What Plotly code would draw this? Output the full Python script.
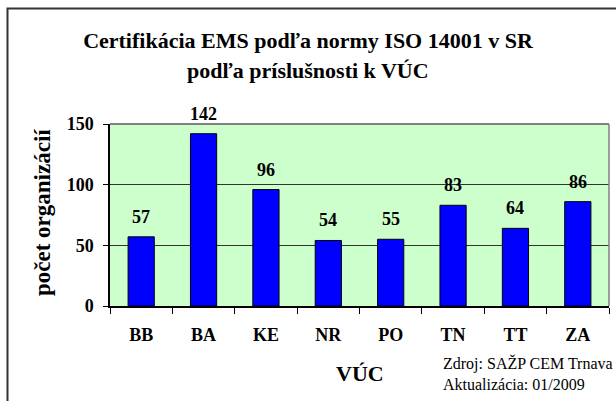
import plotly.graph_objects as go

categories = ["BB", "BA", "KE", "NR", "PO", "TN", "TT", "ZA"]
values = [57, 142, 96, 54, 55, 83, 64, 86]
y_ticks = [0, 50, 100, 150]

title_line1 = "Certifikácia EMS podľa normy ISO 14001 v SR"
title_line2 = "podľa príslušnosti k VÚC"
y_title = "počet organizácií"
x_title = "VÚC"
source_lines = ["Zdroj: SAŽP CEM Trnava", "Aktualizácia: 01/2009"]

SERIF = "Liberation Serif, Times New Roman, serif"

W, H = 616, 401
L, R, T, B = 110, 7, 124, 95
pw, ph = W - L - R, H - T - B

def px_x(px):
    return (px - L) / pw

def px_y(py):
    return (H - B - py) / ph

fig = go.Figure()
fig.add_trace(go.Bar(
    x=categories, y=values,
    marker=dict(color="#0000FF", line=dict(color="#000000", width=1)),
    width=0.42,
    hoverinfo="x+y",
))

annotations = []
for c, v in zip(categories, values):
    annotations.append(dict(
        x=c, y=v, xref="x", yref="y", text=str(v), showarrow=False,
        yanchor="bottom", yshift=8,
        font=dict(family=SERIF, size=18, color="#000000", weight="bold"),
    ))

annotations.append(dict(
    x=px_x(W / 2), y=px_y(71), xref="paper", yref="paper", text=title_line2,
    showarrow=False, xanchor="center", yanchor="middle",
    font=dict(family=SERIF, size=22, color="#000000", weight="bold"),
))
annotations.append(dict(
    x=px_x(42), y=px_y(213), xref="paper", yref="paper", text=y_title,
    textangle=-90, showarrow=False, xanchor="center", yanchor="middle",
    font=dict(family=SERIF, size=23, color="#000000", weight="bold"),
))
annotations.append(dict(
    x=0.5, y=px_y(373), xref="paper", yref="paper", text=x_title,
    showarrow=False, xanchor="center", yanchor="middle",
    font=dict(family=SERIF, size=22, color="#000000", weight="bold"),
))
annotations.append(dict(
    x=px_x(441), y=px_y(373), xref="paper", yref="paper",
    text="<br>".join(source_lines), showarrow=False, xanchor="left",
    yanchor="middle", align="left",
    font=dict(family=SERIF, size=16, color="#000000"),
))

shapes = [
    # outer chart border (top and left visible)
    dict(type="rect", xref="paper", yref="paper",
         x0=px_x(7.5), x1=px_x(640), y0=px_y(430), y1=px_y(8.5),
         line=dict(color="#333333", width=2), fillcolor="rgba(0,0,0,0)", layer="above"),
    # plot frame top and right in gray
    dict(type="line", xref="paper", yref="paper", x0=0, x1=1, y0=1, y1=1,
         line=dict(color="#808080", width=2)),
    dict(type="line", xref="paper", yref="paper", x0=1, x1=1, y0=0, y1=1,
         line=dict(color="#808080", width=1.5)),
]

fig.update_layout(
    width=W, height=H,
    margin=dict(l=L, r=R, t=T, b=B),
    paper_bgcolor="#FFFFFF",
    plot_bgcolor="#CCFFCC",
    showlegend=False,
    title=dict(
        text=title_line1, x=0.5, xref="container", xanchor="center",
        y=1 - 40 / H, yref="container", yanchor="middle",
        font=dict(family=SERIF, size=22, color="#000000", weight="bold"),
    ),
    xaxis=dict(
        type="category", tickson="boundaries", ticks="outside", ticklen=6,
        tickcolor="#000000", tickwidth=1,
        showline=True, linecolor="#000000", linewidth=1.5,
        showgrid=False,
        tickfont=dict(family=SERIF, size=18, color="#000000", weight="bold"),
        ticklabelstandoff=12,
    ),
    yaxis=dict(
        range=[0, 150], tickvals=y_ticks, ticks="outside", ticklen=5,
        tickcolor="#000000", tickwidth=1,
        showline=True, linecolor="#000000", linewidth=1.5,
        showgrid=True, gridcolor="#333333", gridwidth=1,
        zeroline=False,
        tickfont=dict(family=SERIF, size=18, color="#000000", weight="bold"),
        ticklabelstandoff=6,
    ),
    annotations=annotations,
    shapes=shapes,
)

fig.write_html(
    "out.html",
    config={"displayModeBar": False},
    post_script="document.body.style.margin='0';document.body.style.overflow='hidden';",
)
